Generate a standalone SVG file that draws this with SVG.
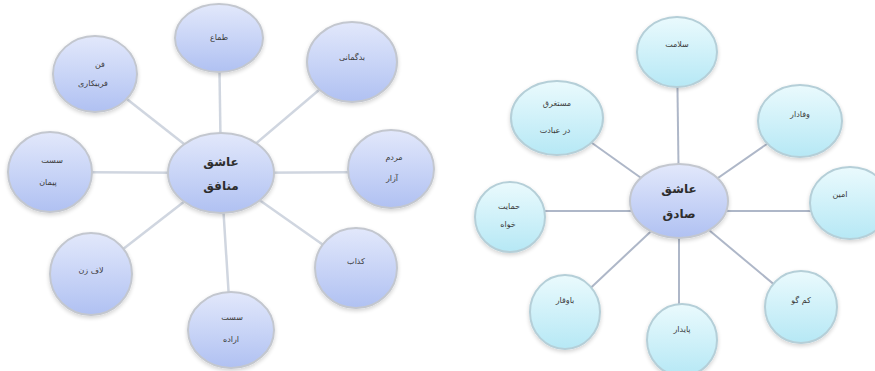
<svg xmlns="http://www.w3.org/2000/svg" width="875" height="371" viewBox="0 0 875 371">
<defs>
<linearGradient id="gBlue" x1="0" y1="0" x2="0" y2="1">
<stop offset="0" stop-color="#e2e8fb"/>
<stop offset="1" stop-color="#b0c1f2"/>
</linearGradient>
<linearGradient id="gCyan" x1="0" y1="0" x2="0" y2="1">
<stop offset="0" stop-color="#eafafd"/>
<stop offset="1" stop-color="#b6e8f5"/>
</linearGradient>
<filter id="sh" x="-20%" y="-20%" width="140%" height="150%">
<feGaussianBlur in="SourceAlpha" stdDeviation="2"/>
<feOffset dy="2"/>
<feComponentTransfer><feFuncA type="linear" slope="0.18"/></feComponentTransfer>
<feMerge><feMergeNode/><feMergeNode in="SourceGraphic"/></feMerge>
</filter>
</defs>
<style>
.lb{fill:url(#gBlue);stroke:#c3c7cf;stroke-width:2;filter:url(#sh)}
.lc{fill:url(#gCyan);stroke:#b5cfd8;stroke-width:2;filter:url(#sh)}
.cn{stroke:#d0d6e0;stroke-width:2.5;fill:none}
.cr{stroke:#aeb7c8;stroke-width:2;fill:none}
text{font-family:"DejaVu Sans",sans-serif;text-anchor:middle;fill:#3a3a3a;font-size:8px}
.big{font-size:12px;font-weight:bold;fill:#2e2e2e}
</style>
<rect width="875" height="371" fill="#ffffff"/>
<g id="connectors">
<line class="cn" x1="221" y1="173" x2="219" y2="38"/>
<line class="cn" x1="221" y1="173" x2="352" y2="62"/>
<line class="cn" x1="221" y1="173" x2="95" y2="74"/>
<line class="cn" x1="221" y1="173" x2="50" y2="172"/>
<line class="cn" x1="221" y1="173" x2="391" y2="172"/>
<line class="cn" x1="221" y1="173" x2="356" y2="268"/>
<line class="cn" x1="221" y1="173" x2="231" y2="330"/>
<line class="cn" x1="221" y1="173" x2="91" y2="274"/>
<line class="cr" x1="679" y1="205" x2="677" y2="52"/>
<line class="cr" x1="679" y1="205" x2="800" y2="121"/>
<line class="cr" x1="679" y1="205" x2="557" y2="118"/>
<line class="cr" x1="679" y1="211" x2="510" y2="211"/>
<line class="cr" x1="679" y1="211" x2="850" y2="211"/>
<line class="cr" x1="679" y1="205" x2="801" y2="307"/>
<line class="cr" x1="679" y1="205" x2="679" y2="340"/>
<line class="cr" x1="679" y1="205" x2="565" y2="312"/>
</g>
<g id="left-top"><ellipse class="lb" cx="219" cy="38" rx="44" ry="34"/><text x="219" y="40">طماع</text></g>
<g id="left-topright"><ellipse class="lb" cx="352" cy="62" rx="45" ry="40"/><text x="352" y="60">بدگمانی</text></g>
<g id="left-topleft"><ellipse class="lb" cx="95" cy="74" rx="42" ry="38"/><text x="100" y="67">فن</text><text x="93" y="86">فریبکاری</text></g>
<g id="left-left"><ellipse class="lb" cx="50" cy="172" rx="42" ry="40"/><text x="52" y="163">سست</text><text x="48" y="185">پیمان</text></g>
<g id="left-right"><ellipse class="lb" cx="391" cy="169" rx="43" ry="39"/><text x="394" y="160">مردم</text><text x="392" y="181">آزار</text></g>
<g id="left-bottomright"><ellipse class="lb" cx="356" cy="268" rx="41" ry="40"/><text x="356" y="264">کذاب</text></g>
<g id="left-bottom"><ellipse class="lb" cx="231" cy="330" rx="43" ry="38"/><text x="232" y="320">سست</text><text x="231" y="342">اراده</text></g>
<g id="left-bottomleft"><ellipse class="lb" cx="91" cy="274" rx="41" ry="41"/><text x="91" y="273">لاف زن</text></g>
<g id="left-center"><ellipse class="lb" cx="221" cy="173" rx="53" ry="40"/><text class="big" x="221" y="166">عاشق</text><text class="big" x="221" y="190">منافق</text></g>
<g id="right-top"><ellipse class="lc" cx="677" cy="52" rx="40" ry="35"/><text x="677" y="47">سلامت</text></g>
<g id="right-topright"><ellipse class="lc" cx="800" cy="121" rx="42" ry="36"/><text x="800" y="117">وفادار</text></g>
<g id="right-right"><ellipse class="lc" cx="850" cy="203" rx="40" ry="36"/><text x="840" y="197">امین</text></g>
<g id="right-bottomright"><ellipse class="lc" cx="801" cy="307" rx="36" ry="36"/><text x="801" y="303">کم گو</text></g>
<g id="right-bottom"><ellipse class="lc" cx="682" cy="340" rx="35" ry="36"/><text x="682" y="332">پایدار</text></g>
<g id="right-bottomleft"><ellipse class="lc" cx="565" cy="312" rx="35" ry="37"/><text x="565" y="303">باوقار</text></g>
<g id="right-left"><ellipse class="lc" cx="510" cy="217" rx="35" ry="35"/><text x="509" y="209">حمایت</text><text x="508" y="227">خواه</text></g>
<g id="right-topleft"><ellipse class="lc" cx="557" cy="118" rx="46" ry="37"/><text x="557" y="106">مستغرق</text><text x="555" y="133">در عبادت</text></g>
<g id="right-center"><ellipse class="lb" cx="679" cy="201" rx="49" ry="37"/><text class="big" x="679" y="193">عاشق</text><text class="big" x="679" y="218">صادق</text></g>
</svg>
